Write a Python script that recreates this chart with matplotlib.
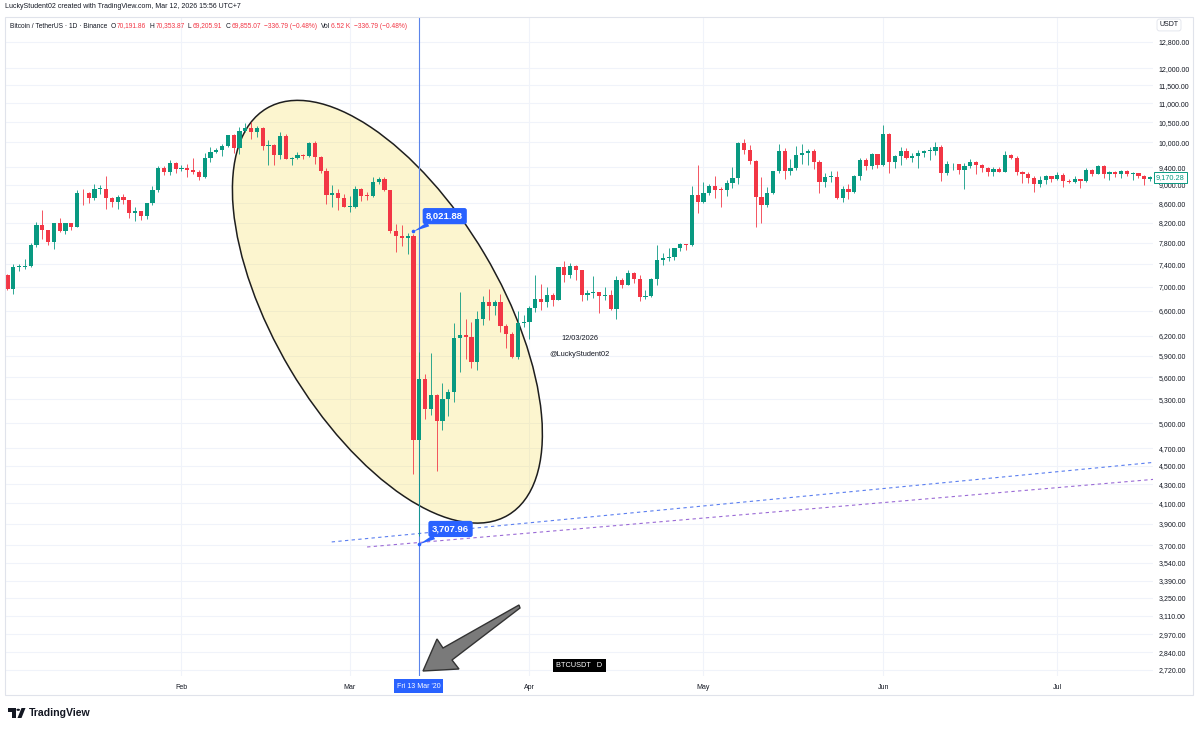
import numpy as np
import pandas as pd
import matplotlib
matplotlib.use('Agg')
import matplotlib.pyplot as plt
from matplotlib.patches import Ellipse, Polygon, Rectangle, Circle
from matplotlib.ticker import NullLocator
from matplotlib.transforms import IdentityTransform

plt.rcParams['font.family'] = ['Liberation Sans', 'DejaVu Sans']

# BTCUSDT daily candles, 2 Jan 2020 .. 17 Jul 2020
opens = [7200, 6965, 7345, 7355, 7358, 7758, 8145, 8055, 7818, 8198, 8021, 8185, 8110, 8813, 8810, 8717, 8900, 8910, 8706, 8630, 8725, 8660, 8385, 8430, 8330, 8595, 8895, 9390, 9285, 9500,
         9350, 9380, 9330, 9290, 9180, 9615, 9760, 9800, 9900, 10165, 9850, 10270, 10350, 10240, 10365, 9905, 9935, 9690, 10140, 9600, 9610, 9690, 9665, 9965, 9650, 9315, 8785, 8820, 8720,
         8525, 8530, 8915, 8760, 8750, 9055, 9135, 8885, 8035, 7935, 7895, 7935, 4800, 5578, 5172, 5361, 5028, 5312, 5392, 6162, 6208, 6186, 5816, 6469, 6744, 6677, 6737, 6359, 6236, 5882, 6395,
         6410, 6642, 6795, 6733, 6860, 6775, 7340, 7200, 7370, 7290, 6865, 6885, 6905, 6835, 6860, 6620, 7110, 7030, 7245, 7125, 6830, 6840, 7125, 7480, 7505, 7540, 7695, 7775, 7760, 8780,
         8620, 8825, 8965, 8895, 8885, 9030, 9150, 9985, 9805, 9540, 8725, 8560, 8810, 9310, 9790, 9315, 9380, 9680, 9730, 9775, 9510, 9060, 9170, 9180, 8720, 8900, 8840, 9205, 9575, 9430, 9700,
         9450, 10200, 9520, 9665, 9790, 9625, 9665, 9745, 9780, 9780, 9880, 9270, 9465, 9470, 9340, 9430, 9525, 9460, 9385, 9295, 9360, 9295, 9685, 9620, 9290, 9245, 9160, 9010, 9115, 9190,
         9135, 9230, 9090, 9060, 9135, 9075, 9345, 9250, 9430, 9235, 9290, 9235, 9300, 9240, 9255, 9195, 9130]
highs = [7213, 7405, 7405, 7495, 7796, 8207, 8455, 8055, 8200, 8286, 8197, 8196, 8880, 8900, 8846, 9008, 9000, 9195, 8725, 8770, 8792, 8660, 8520, 8430, 8600, 8975, 9430, 9430, 9570, 9525,
         9440, 9480, 9615, 9345, 9745, 9870, 9860, 9950, 10170, 10190, 10390, 10490, 10500, 10400, 10390, 10060, 9950, 10250, 10190, 9650, 9760, 9715, 9990, 10030, 9655, 9380, 8985, 8900, 8795,
         8750, 8975, 8925, 8840, 9170, 9170, 9185, 8890, 8175, 8150, 7990, 7966, 5955, 5640, 5940, 5365, 5525, 5436, 6400, 6900, 6456, 6410, 6600, 6845, 6957, 6780, 6871, 6385, 6266, 6599, 6524,
         6679, 7198, 7050, 6990, 6885, 7355, 7460, 7420, 7380, 7295, 6950, 7180, 6910, 6990, 6935, 7190, 7150, 7290, 7250, 7210, 6945, 7150, 7750, 7600, 7700, 7700, 7795, 7780, 8970, 9460,
         9060, 9010, 9190, 8950, 9100, 9395, 9990, 10065, 9920, 9575, 9170, 8950, 9320, 9950, 9845, 9595, 9895, 9950, 9840, 9840, 9565, 9275, 9310, 9300, 8980, 9015, 9225, 9625, 9605, 9740, 9720,
         10430, 10230, 9690, 9885, 9850, 9735, 9800, 9800, 9880, 9990, 9935, 9545, 9485, 9480, 9500, 9585, 9540, 9480, 9395, 9400, 9415, 9785, 9705, 9660, 9320, 9280, 9195, 9190, 9230, 9200,
         9295, 9270, 9125, 9190, 9140, 9375, 9365, 9450, 9440, 9310, 9300, 9345, 9345, 9280, 9275, 9210, 9190]
lows = [6935, 6871, 7273, 7318, 7346, 7723, 7870, 7750, 7672, 8005, 7969, 8055, 8105, 8565, 8612, 8665, 8800, 8470, 8520, 8480, 8590, 8300, 8232, 8255, 8280, 8560, 8850, 9230, 9215, 9255,
        9300, 9180, 9235, 9115, 9160, 9530, 9735, 9660, 9880, 9730, 9700, 10250, 10080, 10125, 9800, 9450, 9460, 9580, 9580, 9450, 9580, 9590, 9650, 9475, 9260, 8580, 8530, 8450, 8525,
        8410, 8500, 8650, 8660, 8735, 9010, 8870, 8000, 7630, 7730, 7590, 4410, 3782, 5055, 5100, 4442, 4920, 5093, 5260, 5670, 5860, 5734, 5700, 6370, 6450, 6530, 6260, 6020, 5870, 5857, 6330,
        6150, 6575, 6605, 6650, 6670, 6770, 7080, 7150, 7110, 6750, 6770, 6810, 6555, 6765, 6610, 6460, 6980, 7020, 7055, 6750, 6785, 6825, 7020, 7390, 7450, 7480, 7650, 7660, 7735, 8400,
        8600, 8765, 8710, 8530, 8760, 8935, 9010, 9700, 9465, 8115, 8200, 8530, 8800, 9255, 9135, 9225, 9340, 9465, 9460, 9350, 8815, 8940, 9070, 8700, 8630, 8700, 8810, 9110, 9330, 9350, 9375,
        9420, 9265, 9385, 9455, 9580, 9530, 9380, 9640, 9570, 9685, 9095, 9230, 9335, 9240, 8900, 9375, 9245, 9280, 9200, 9190, 9280, 9285, 9585, 9210, 9030, 9035, 8835, 8940, 9020, 9065,
        9105, 8940, 9040, 9040, 8930, 9060, 9200, 9235, 9145, 9110, 9180, 9150, 9200, 9110, 9150, 9000, 9090]
closes = [6965, 7345, 7355, 7358, 7758, 8145, 8055, 7818, 8198, 8021, 8185, 8110, 8813, 8810, 8717, 8900, 8910, 8706, 8630, 8725, 8660, 8385, 8430, 8330, 8595, 8895, 9390, 9285, 9500, 9350,
          9380, 9330, 9290, 9180, 9615, 9760, 9800, 9900, 10165, 9850, 10270, 10350, 10240, 10365, 9905, 9935, 9690, 10140, 9600, 9610, 9690, 9665, 9965, 9650, 9315, 8785, 8820, 8720, 8525,
          8530, 8915, 8760, 8750, 9055, 9135, 8885, 8035, 7935, 7895, 7935, 4800, 5578, 5172, 5361, 5028, 5312, 5392, 6162, 6208, 6186, 5816, 6469, 6744, 6677, 6737, 6359, 6236, 5882, 6395, 6410,
          6642, 6795, 6733, 6860, 6775, 7340, 7200, 7370, 7290, 6865, 6885, 6905, 6835, 6860, 6620, 7110, 7030, 7245, 7125, 6830, 6840, 7125, 7480, 7505, 7540, 7695, 7775, 7760, 8780, 8620,
          8825, 8965, 8895, 8885, 9030, 9150, 9985, 9805, 9540, 8725, 8560, 8810, 9310, 9790, 9315, 9380, 9680, 9730, 9775, 9510, 9060, 9170, 9180, 8720, 8900, 8840, 9205, 9575, 9430, 9700, 9450,
          10200, 9520, 9665, 9790, 9625, 9665, 9745, 9780, 9780, 9880, 9270, 9465, 9470, 9340, 9430, 9525, 9460, 9385, 9295, 9360, 9295, 9685, 9620, 9290, 9245, 9160, 9010, 9115, 9190, 9135,
          9230, 9090, 9060, 9135, 9075, 9345, 9250, 9430, 9235, 9290, 9235, 9300, 9240, 9255, 9195, 9130, 9170.28]

start_date = '2020-01-02'
yticks = [12800, 12000, 11500, 11000, 10500, 10000, 9400, 9000, 8600, 8200, 7800, 7400, 7000, 6600,
          6200, 5900, 5600, 5300, 5000, 4700, 4500, 4300, 4100, 3900, 3700, 3540, 3390, 3250, 3110,
          2970, 2840, 2720]
month_names = ['Feb', 'Mar', 'Apr', 'May', 'Jun', 'Jul']

# drawings on the chart (date index, price)
note_hi = (70, 8021.88)
note_lo = (71, 3707.96)
marked_day = 71
trend_blue = ([55.9, 197.5], [3729, 4537])
trend_purple = ([62.0, 197.5], [3683, 4351])
ellipse_center = (65.5, 6580)

W, H = 1200, 729
BULL = '#089981'
BEAR = '#f23645'
TXT = '#131722'
BLUE = '#2962ff'
GRID = '#f0f3fa'

o = np.array(opens, float)
h = np.array(highs, float)
l = np.array(lows, float)
c = np.array(closes, float)
dates = pd.date_range(start_date, periods=len(c), freq='D')
idx = np.arange(len(c))

fig = plt.figure(figsize=(W / 100, H / 100), dpi=100)
ax = fig.add_axes([5 / W, 1 - 676 / H, 1148 / W, 659 / H])
ax.set_yscale('log')
ax.set_xlim(-0.43, 197.5)
ax.set_ylim(2679, 13614)

for s in ax.spines.values():
    s.set_visible(False)
ax.set_yticks(yticks)
ax.set_yticklabels([f'{v:,.2f}' for v in yticks])
ax.yaxis.set_minor_locator(NullLocator())
ax.yaxis.tick_right()
ax.tick_params(axis='y', length=0, pad=4, labelsize=5, labelcolor=TXT)

month_idx = [i for i, d in enumerate(dates) if d.day == 1]
ax.set_xticks(month_idx)
ax.set_xticklabels(month_names)
ax.tick_params(axis='x', length=0, pad=6, labelsize=5, labelcolor=TXT)
ax.grid(True, color=GRID, lw=0.8)
ax.set_axisbelow(True)

# highlighted ellipse
cx, cy = ax.transData.transform(ellipse_center)
ax.add_patch(Ellipse((cx, cy), 473, 226, angle=-59.3, transform=IdentityTransform(),
                     facecolor=(0.97, 0.86, 0.26, 0.25), edgecolor='#1e1e1e', lw=1.1, zorder=1))

# trend lines and vertical marker
ax.plot(*trend_blue, color='#5b7ff0', lw=0.8, dashes=(3, 3), zorder=2)
ax.plot(*trend_purple, color='#9b6bd6', lw=0.8, dashes=(3, 3), zorder=2)
ax.axvline(marked_day, color='#5b84ea', lw=0.8, zorder=2)

# candles
cols = np.where(c >= o, BULL, BEAR)
ax.vlines(idx, l, h, colors=cols, lw=0.7, alpha=0.85, zorder=3)
body = np.maximum(np.abs(c - o), c * 0.002)
ax.bar(idx, body, bottom=np.minimum(o, c), width=0.7, color=cols, zorder=4)

# price notes
for (xi, pv) in (note_hi, note_lo):
    ax.plot(xi, pv, 'o', ms=1.6, color=BLUE, zorder=6)
    ax.annotate(f'{pv:,.2f}', xy=(xi, pv), xytext=(22.5, 11), textcoords='offset points',
                ha='center', va='center', color='white', fontsize=6.8, fontweight='bold',
                bbox=dict(boxstyle='round,pad=0.38,rounding_size=0.25', fc=BLUE, ec='none'),
                arrowprops=dict(arrowstyle='wedge,tail_width=0.5', fc=BLUE, ec='none',
                                shrinkA=0, shrinkB=0),
                zorder=7)


def px(x, y):
    return (x / W, 1 - y / H)


# big grey arrow pointing at the crash day
arrow_px = [(519, 605), (443, 648), (437, 639), (423, 671), (459, 669), (452, 660), (520, 608)]
fig.patches.append(Polygon([px(x, y) for x, y in arrow_px], closed=True, transform=fig.transFigure,
                           facecolor='#7a7a7a', edgecolor='#333333', lw=1, zorder=8))

# watermark texts
fig.text(*px(580, 339), '12/03/2026', ha='center', va='center', fontsize=5.3, color=TXT)
fig.text(*px(580, 355), '@LuckyStudent02', ha='center', va='center', fontsize=5.3, color=TXT)
fig.text(*px(579.5, 665.5), 'BTCUSDT   D', ha='center', va='center', fontsize=5.3, color='white',
         bbox=dict(boxstyle='square,pad=0.45', fc='black', ec='none'))

# date label on the time axis
fig.text(*px(418.5, 686), "Fri 13 Mar '20", ha='center', va='center', fontsize=5, color='white',
         bbox=dict(boxstyle='square,pad=0.45', fc=BLUE, ec='none'))

# last price label
fig.text(*px(1170.5, 177.5), f'{closes[-1]:,.2f}', ha='center', va='center', fontsize=5.3, color=BULL,
         bbox=dict(boxstyle='square,pad=0.25', fc='white', ec=BULL, lw=0.7), zorder=10)

# currency label
fig.text(*px(1169, 25), 'USDT', ha='center', va='center', fontsize=5, color=TXT,
         bbox=dict(boxstyle='round,pad=0.35', fc='white', ec='#e0e3eb', lw=0.6))

# panel frame
fig.patches.append(Rectangle(px(5, 695), 1188 / W, 678 / H, transform=fig.transFigure,
                             fill=False, ec='#e0e3eb', lw=0.8))

# header
fig.text(*px(5, 6), 'LuckyStudent02 created with TradingView.com, Mar 12, 2026 15:56 UTC+7',
         ha='left', va='center', fontsize=5, color=TXT)

renderer = fig.canvas.get_renderer()
runs = [('Bitcoin / TetherUS · 1D · Binance', TXT, 3), ('O', TXT, 1.5), ('70,191.86', BEAR, 3),
        ('H', TXT, 1.5), ('70,353.87', BEAR, 3), ('L', TXT, 1.5), ('69,205.91', BEAR, 3),
        ('C', TXT, 1.5), ('69,855.07', BEAR, 3.5), ('−336.79 (−0.48%)', BEAR, 3),
        ('Vol', TXT, 1.2), ('6.52 K', BEAR, 3.5), ('−336.79 (−0.48%)', BEAR, 0)]
xpos = 10
for s, col, gap in runs:
    t = fig.text(*px(xpos, 26), s, ha='left', va='center', fontsize=4.8, color=col)
    xpos += t.get_window_extent(renderer).width + gap

# TradingView logo
fig.patches.append(Polygon([px(*p) for p in [(8, 708), (16, 708), (16, 718), (12, 718), (12, 711.5), (8, 711.5)]],
                           closed=True, transform=fig.transFigure, fc=TXT, ec='none'))
fig.patches.append(Circle(px(18.2, 709.8), 1.8 / W, transform=fig.transFigure, fc=TXT, ec='none'))
fig.patches.append(Polygon([px(*p) for p in [(21.5, 708), (25.5, 708), (21.5, 718), (17.5, 718)]],
                           closed=True, transform=fig.transFigure, fc=TXT, ec='none'))
fig.text(*px(29, 713.5), 'TradingView', ha='left', va='center', fontsize=7.6, fontweight='bold', color=TXT)

fig.savefig('out.png', dpi=100)
